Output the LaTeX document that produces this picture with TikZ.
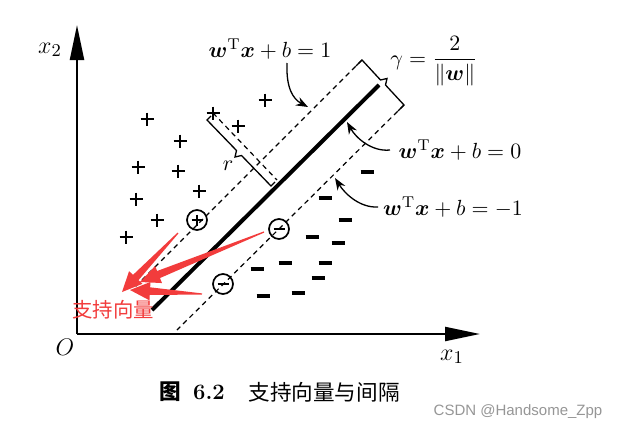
\documentclass[tikz,border=0pt]{standalone}
\usepackage{amsmath,bm}
\usepackage{fontspec}
\newfontfamily\cjk{Noto Sans CJK SC}
\newfontfamily\wmfont{Liberation Sans}
\usetikzlibrary{arrows.meta,calc}
\definecolor{redc}{RGB}{242,60,60}
\definecolor{wmgray}{RGB}{150,150,150}
\newcommand\redarr[2]{%
  \coordinate (hb) at ($(#2)!10pt!(#1)$);
  \fill[redc] ($(#1)!0.3pt!90:(#2)$) -- ($(hb)!1.9pt!90:(#2)$) -- ($(hb)!4.6pt!90:(#2)$) -- (#2)
     -- ($(hb)!4.6pt!-90:(#2)$) -- ($(hb)!1.9pt!-90:(#2)$) -- ($(#1)!0.3pt!-90:(#2)$) -- cycle;}
\begin{document}
\begin{tikzpicture}[x=0.5pt,y=-0.5pt,
  axis/.style={line width=1.1pt,-{Triangle[length=17.5pt,width=7pt]}},
  sepline/.style={line width=2pt},
  margin/.style={line width=0.6pt,dash pattern=on 2.5pt off 2pt},
  brk/.style={line width=0.65pt,line join=miter},
  lbl/.style={font=\fontsize{11.2}{13}\selectfont,inner sep=0pt},
  axlbl/.style={font=\fontsize{12.5}{14}\selectfont,inner sep=0pt},
  callout/.style={line width=0.65pt,-{Stealth[length=6pt,width=4.5pt]}},
  sv/.style={circle,draw,line width=0.85pt,minimum size=10pt,inner sep=0pt},
  pplus/.pic={\draw[line width=1.45pt] (-6.5,0)--(6.5,0) (0,-6.5)--(0,6.5);},
  mminus/.pic={\draw[line width=1.6pt] (-6.5,0)--(6.5,0);},
  splus/.pic={\draw[line width=1.2pt] (-5.5,0)--(5.5,0) (0,-5.5)--(0,5.5);},
  sminus/.pic={\draw[line width=1.3pt] (-5.5,0)--(5.5,0);}]
\fill[white] (0,0) rectangle (619,428);
\useasboundingbox (0,0) rectangle (619,428);
% axes
\coordinate (o) at (77,334);
\coordinate (xe) at (480,334);
\coordinate (ye) at (77,25);
\draw[axis] (o) -- (xe);
\draw[axis] (o) -- (ye);
\node[axlbl] (x2l) at (50,50) {$x_2$};
\node[axlbl] (x1l) at (452,357) {$x_1$};
\node[axlbl] (ol) at (65,347) {$O$};
% separating lines
\draw[sepline] (379,85) -- (152,310);
\draw[margin] (362,60) -- (134,288);
\draw[margin] (404,105) -- (177,330);
% gamma bracket
\draw[brk] (356,66) -- (362,60) -- (380.5,80) -- (387,78.5) -- (385.5,85) -- (404,105) -- (398,111);
% r bracket
\draw[margin] (213,113) -- (277,180);
\draw[brk] (211,116) -- (207,120) -- (236.5,150.5) -- (235,157) -- (241.5,155.5) -- (271,186) -- (275,182);
% positive points
\foreach \p in {(265,100),(213,113),(238,126),(147,119),(180,141),(138,167),(178,171),(199,191),(136,199),(157,220),(126,237)}
  \pic at \p {pplus};
% negative points
\foreach \p in {(367,172),(325,198),(345,220),(312,237),(338,243),(285,263),(325,263),(257,269),(318,278),(263,296),(298,293)}
  \pic at \p {mminus};
% support vectors
\node[sv] (sv1) at (197,220) {};
\pic at (sv1) {splus};
\node[sv] (sv2) at (279,229) {};
\pic at (sv2) {sminus};
\node[sv] (sv3) at (223,284) {};
\pic at (sv3) {sminus};
% labels
\node[lbl] (l1) at (270,49) {$\bm{w}^{\mathrm{T}}\bm{x}+b=1$};
\node[lbl] (lg) at (434,61) {$\gamma=\dfrac{2}{\|\bm{w}\|}$};
\node[lbl] (l0) at (460,150) {$\bm{w}^{\mathrm{T}}\bm{x}+b=0$};
\node[lbl] (lm) at (453,207) {$\bm{w}^{\mathrm{T}}\bm{x}+b=-1$};
\node[lbl] (rl) at (228,166) {$r$};
% callouts
\coordinate (c1a) at (287,63); \coordinate (c1b) at (308,107);
\draw[callout] (c1a) .. controls (286,88) and (293,99) .. (c1b);
\coordinate (c0a) at (390,150); \coordinate (c0b) at (347,122);
\draw[callout] (c0a) .. controls (372,152) and (356,138) .. (c0b);
\coordinate (cma) at (378,207); \coordinate (cmb) at (335,178);
\draw[callout] (cma) .. controls (360,208) and (345,194) .. (cmb);
% red annotation
\coordinate (ra1) at (178,233); \coordinate (rt1) at (122,292);
\coordinate (ra2) at (264,232); \coordinate (rt2) at (140,282);
\coordinate (ra3) at (202,294); \coordinate (rt3) at (130,290);
\redarr{ra1}{rt1}
\redarr{ra2}{rt2}
\redarr{ra3}{rt3}
\node[font=\cjk\fontsize{10.2}{12}\selectfont,text=redc,inner sep=0pt] (svl) at (113,310) {支持向量};
% caption
\node[font=\cjk\bfseries\fontsize{10.8}{13}\selectfont,inner sep=0pt] (cap1) at (170,392) {图};
\node[font=\bfseries\fontsize{11}{13}\selectfont,inner sep=0pt] (cap2) at (209,392) {6.2};
\node[font=\cjk\fontsize{10.8}{13}\selectfont,inner sep=0pt] (cap3) at (324,392) {支持向量与间隔};
\node[font=\wmfont\fontsize{7.5}{9}\selectfont,text=wmgray,inner sep=0pt] (wm) at (518,412) {CSDN @Handsome\_Zpp};
\end{tikzpicture}
\end{document}
